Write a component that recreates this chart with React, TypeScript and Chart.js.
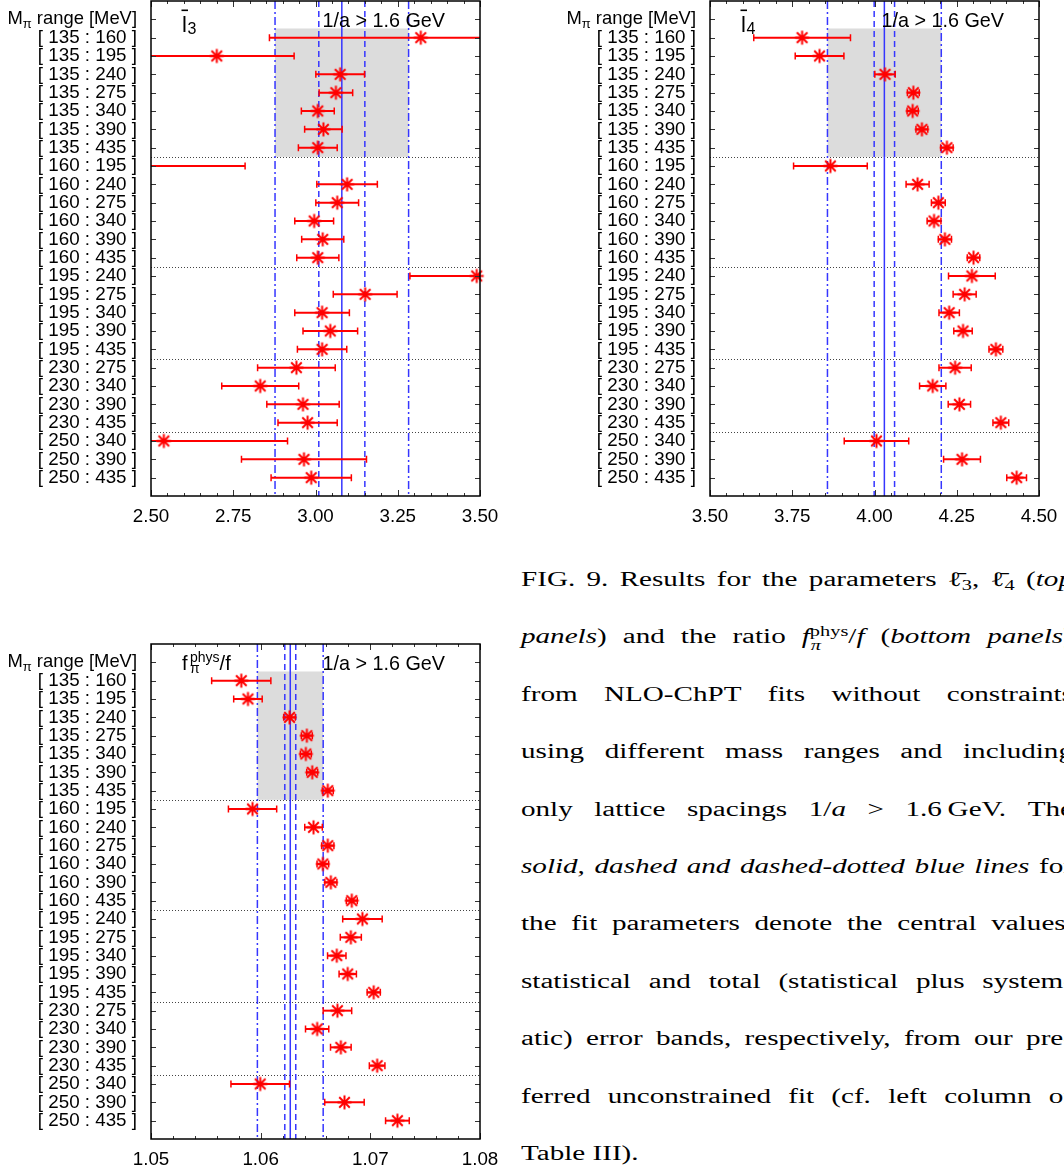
import React, { useEffect, useRef } from "react";
import { Chart, registerables } from "chart.js";

Chart.register(...registerables);

const FONT = '"Liberation Sans", Arial, Helvetica, sans-serif';
Chart.defaults.font.family = FONT;

// ---------------- data ----------------
const rowLabels = [
  "[ 135 : 160 ]", "[ 135 : 195 ]", "[ 135 : 240 ]", "[ 135 : 275 ]", "[ 135 : 340 ]", "[ 135 : 390 ]", "[ 135 : 435 ]",
  "[ 160 : 195 ]", "[ 160 : 240 ]", "[ 160 : 275 ]", "[ 160 : 340 ]", "[ 160 : 390 ]", "[ 160 : 435 ]",
  "[ 195 : 240 ]", "[ 195 : 275 ]", "[ 195 : 340 ]", "[ 195 : 390 ]", "[ 195 : 435 ]",
  "[ 230 : 275 ]", "[ 230 : 340 ]", "[ 230 : 390 ]", "[ 230 : 435 ]",
  "[ 250 : 340 ]", "[ 250 : 390 ]", "[ 250 : 435 ]",
];
const groupBreaks = [7.5, 13.5, 18.5, 22.5];
const shadedRowRange = [0.5, 7.5];

const l3Values = [3.32, 2.70, 3.075, 3.062, 3.007, 3.024, 3.007, 2.35, 3.096, 3.066, 2.996, 3.022, 3.007, 3.49, 3.151, 3.020, 3.045, 3.020, 2.942, 2.832, 2.962, 2.976, 2.539, 2.965, 2.987];
const l3Errors = [0.46, 0.235, 0.074, 0.051, 0.050, 0.057, 0.059, 0.436, 0.092, 0.065, 0.059, 0.064, 0.064, 0.203, 0.097, 0.083, 0.083, 0.075, 0.118, 0.117, 0.110, 0.090, 0.376, 0.190, 0.122];
const l3Fit = [3.080, 0.070, 0.203]; // central, statistical, total
const l3Ticks = [2.5, 2.75, 3.0, 3.25, 3.5];

const l4Values = [3.780, 3.833, 4.032, 4.118, 4.116, 4.144, 4.220, 3.866, 4.131, 4.194, 4.181, 4.214, 4.301, 4.296, 4.274, 4.227, 4.269, 4.369, 4.245, 4.177, 4.258, 4.384, 4.006, 4.266, 4.432];
const l4Errors = [0.147, 0.074, 0.031, 0.018, 0.017, 0.018, 0.019, 0.112, 0.035, 0.021, 0.021, 0.020, 0.019, 0.071, 0.035, 0.031, 0.028, 0.021, 0.049, 0.040, 0.034, 0.024, 0.098, 0.056, 0.030];
const l4Fit = [4.030, 0.031, 0.173];
const l4Ticks = [3.5, 3.75, 4.0, 4.25, 4.5];

const fValues = [1.05823, 1.05884, 1.06263, 1.06421, 1.06412, 1.06470, 1.06612, 1.05926, 1.06482, 1.06612, 1.06567, 1.06640, 1.06831, 1.06928, 1.06822, 1.06694, 1.06794, 1.07031, 1.06700, 1.06515, 1.06731, 1.07062, 1.05996, 1.06764, 1.07247];
const fErrors = [0.0027, 0.0013, 0.00053, 0.0005, 0.0005, 0.0005, 0.0005, 0.0022, 0.0008, 0.00056, 0.00053, 0.00055, 0.0005, 0.0018, 0.00096, 0.00084, 0.00079, 0.0006, 0.0013, 0.00106, 0.00094, 0.00071, 0.00267, 0.0018, 0.00108];
const fFit = [1.0627, 0.0005, 0.0030];
const fTicks = [1.05, 1.06, 1.07, 1.08];

// ---------------- marker (gnuplot-like asterisk) ----------------
function makeStar(): HTMLCanvasElement {
  const c = document.createElement("canvas");
  c.width = 17;
  c.height = 17;
  const g = c.getContext("2d")!;
  g.strokeStyle = "#ff0000";
  g.lineWidth = 2;
  g.lineCap = "butt";
  const m = 8.5;
  g.beginPath();
  g.moveTo(m - 7, m);
  g.lineTo(m + 7, m);
  g.moveTo(m, m - 7);
  g.lineTo(m, m + 7);
  g.moveTo(m - 5.3, m - 5.3);
  g.lineTo(m + 5.3, m + 5.3);
  g.moveTo(m - 5.3, m + 5.3);
  g.lineTo(m + 5.3, m - 5.3);
  g.stroke();
  return c;
}

// ---------------- panel ----------------
type PanelProps = {
  left: number;
  top: number;
  values: number[];
  errors: number[];
  fit: number[];
  ticks: number[];
  minor: number;
  title: string;
};

const CW = 505;
const CH = 540;

function Panel(props: PanelProps) {
  const ref = useRef<HTMLCanvasElement>(null);
  useEffect(() => {
    const canvas = ref.current;
    if (!canvas) return;
    const { values, errors, fit, ticks, minor, title } = props;
    const [central, stat, total] = fit;
    const xmin = ticks[0];
    const xmax = ticks[ticks.length - 1];
    const step = (ticks[1] - ticks[0]) / minor;
    const isMajor = (v: number) => ticks.some((t) => Math.abs(t - v) < step * 0.01);
    const BLUE = "#3636ff";
    const RED = "#ff0000";
    const DASH = [6, 4];
    const DASHDOT = [8, 3, 2, 3];
    const star = makeStar();
    const vline = (x: number, dash: number[]) => ({
      data: [{ x, y: -1 }, { x, y: 26 }],
      showLine: true,
      borderColor: BLUE,
      borderWidth: 1.5,
      borderDash: dash,
      pointRadius: 0,
      fill: false,
    });

    const decor = {
      id: "panelDecor",
      beforeDatasetsDraw(chart: any) {
        const { ctx, chartArea: a } = chart;
        const xs = chart.scales.x;
        const ys = chart.scales.y;
        ctx.save();
        ctx.fillStyle = "#dcdcdc";
        const x1 = xs.getPixelForValue(central - total);
        const x2 = xs.getPixelForValue(central + total);
        const y1 = ys.getPixelForValue(shadedRowRange[0]);
        const y2 = ys.getPixelForValue(shadedRowRange[1]);
        ctx.fillRect(x1, y1, x2 - x1, y2 - y1);
        ctx.strokeStyle = "#444";
        ctx.lineWidth = 1;
        ctx.setLineDash([1, 2]);
        groupBreaks.forEach((b) => {
          const y = Math.round(ys.getPixelForValue(b)) + 0.5;
          ctx.beginPath();
          ctx.moveTo(a.left, y);
          ctx.lineTo(a.right, y);
          ctx.stroke();
        });
        ctx.restore();
      },
      beforeDatasetDraw(chart: any, args: any) {
        if (args.index !== 0) return;
        const { ctx, chartArea: a } = chart;
        const xs = chart.scales.x;
        const ys = chart.scales.y;
        ctx.save();
        ctx.beginPath();
        ctx.rect(a.left, a.top, a.right - a.left, a.bottom - a.top);
        ctx.clip();
        ctx.strokeStyle = RED;
        values.forEach((v, i) => {
          const y = ys.getPixelForValue(i + 1);
          const xa = xs.getPixelForValue(v - errors[i]);
          const xb = xs.getPixelForValue(v + errors[i]);
          ctx.lineWidth = 2;
          ctx.beginPath();
          ctx.moveTo(xa, y);
          ctx.lineTo(xb, y);
          ctx.stroke();
          ctx.lineWidth = 1.5;
          ctx.beginPath();
          ctx.moveTo(xa, y - 3.5);
          ctx.lineTo(xa, y + 3.5);
          ctx.moveTo(xb, y - 3.5);
          ctx.lineTo(xb, y + 3.5);
          ctx.stroke();
        });
        ctx.restore();
      },
      afterDraw(chart: any) {
        const { ctx, chartArea: a } = chart;
        const xs = chart.scales.x;
        const ys = chart.scales.y;
        ctx.save();
        ctx.strokeStyle = "#333";
        ctx.lineWidth = 1;
        ctx.beginPath();
        xs.ticks.forEach((t: any) => {
          const px = Math.round(xs.getPixelForValue(t.value)) + 0.5;
          const len = isMajor(t.value) ? 6 : 3;
          ctx.moveTo(px, a.bottom);
          ctx.lineTo(px, a.bottom - len);
          ctx.moveTo(px, a.top);
          ctx.lineTo(px, a.top + len);
        });
        ys.ticks.forEach((t: any) => {
          const py = Math.round(ys.getPixelForValue(t.value)) + 0.5;
          ctx.moveTo(a.left, py);
          ctx.lineTo(a.left + 5, py);
          ctx.moveTo(a.right, py);
          ctx.lineTo(a.right - 5, py);
        });
        ctx.stroke();
        ctx.strokeStyle = "#000";
        ctx.lineWidth = 1.5;
        ctx.strokeRect(a.left, a.top, a.right - a.left, a.bottom - a.top);

        // header label of the row axis
        ctx.fillStyle = "#000";
        const hy = ys.getPixelForValue(0);
        ctx.textBaseline = "middle";
        ctx.textAlign = "left";
        ctx.font = `18.4px ${FONT}`;
        const wM = ctx.measureText("M").width;
        const wR = ctx.measureText(" range [MeV]").width;
        ctx.font = `13px ${FONT}`;
        const wP = ctx.measureText("π").width;
        let hx = a.left - 14 - (wM + wP + wR);
        ctx.font = `18.4px ${FONT}`;
        ctx.fillText("M", hx, hy);
        hx += wM;
        ctx.font = `13px ${FONT}`;
        ctx.fillText("π", hx, hy + 5);
        hx += wP;
        ctx.font = `18.4px ${FONT}`;
        ctx.fillText(" range [MeV]", hx, hy);

        // cut label
        ctx.textBaseline = "alphabetic";
        ctx.textAlign = "right";
        ctx.font = `19.8px ${FONT}`;
        ctx.fillText("1/a > 1.6 GeV", a.left + 294, a.top + 26);

        // panel title
        ctx.textAlign = "left";
        if (title === "f") {
          ctx.font = `20px ${FONT}`;
          ctx.fillText("f", a.left + 31, a.top + 25.5);
          ctx.font = `14px ${FONT}`;
          ctx.fillText("phys", a.left + 39, a.top + 18);
          ctx.fillText("π", a.left + 39, a.top + 29);
          const wp = ctx.measureText("phys").width;
          ctx.font = `20px ${FONT}`;
          ctx.fillText("/f", a.left + 39 + wp, a.top + 25.5);
        } else {
          ctx.font = `22px ${FONT}`;
          ctx.fillText("l", a.left + 31, a.top + 31);
          ctx.fillRect(a.left + 30.5, a.top + 8.5, 6.5, 1.6);
          ctx.font = `16px ${FONT}`;
          ctx.fillText(title, a.left + 36.5, a.top + 33);
        }
        ctx.restore();
      },
    };

    const chart = new Chart(canvas, {
      type: "scatter",
      data: {
        datasets: [
          {
            data: values.map((v, i) => ({ x: v, y: i + 1 })),
            pointStyle: star,
            pointRadius: 8,
            clip: 8,
          } as any,
          vline(central, []),
          vline(central - stat, DASH),
          vline(central + stat, DASH),
          vline(central - total, DASHDOT),
          vline(central + total, DASHDOT),
        ],
      },
      plugins: [decor],
      options: {
        animation: false,
        responsive: false,
        devicePixelRatio: 1,
        events: [],
        layout: { autoPadding: false, padding: { left: 0, right: 25, top: 1, bottom: 0 } },
        plugins: { legend: { display: false }, tooltip: { enabled: false } },
        scales: {
          x: {
            type: "linear",
            min: xmin,
            max: xmax,
            grid: { display: false, drawTicks: false },
            border: { display: false },
            afterBuildTicks: (s: any) => {
              const arr: any[] = [];
              for (let i = 0; i < ticks.length - 1; i++) {
                for (let j = 0; j < minor; j++) arr.push({ value: ticks[i] + j * step });
              }
              arr.push({ value: xmax });
              s.ticks = arr;
            },
            afterFit: (s: any) => {
              s.height = CH - 1 - 495;
              s.paddingLeft = 0;
              s.paddingRight = 0;
            },
            ticks: {
              autoSkip: false,
              maxRotation: 0,
              padding: 10,
              color: "#000",
              font: { size: 18.8 },
              callback: (v: any) => (isMajor(Number(v)) ? Number(v).toFixed(2) : ""),
            },
          },
          y: {
            type: "linear",
            reverse: true,
            min: -1,
            max: 26,
            grid: { display: false, drawTicks: false },
            border: { display: false },
            afterBuildTicks: (s: any) => {
              s.ticks = [0, ...rowLabels.map((_, i) => i + 1)].map((v) => ({ value: v }));
            },
            afterFit: (s: any) => {
              s.width = 151;
              s.paddingTop = 0;
              s.paddingBottom = 0;
            },
            ticks: {
              autoSkip: false,
              padding: 14,
              color: "#000",
              font: { size: 18.8 },
              callback: (v: any) => (Number(v) >= 1 ? rowLabels[Number(v) - 1] : ""),
            },
          },
        },
      } as any,
    });
    return () => chart.destroy();
  }, []);
  return (
    <canvas
      ref={ref}
      width={CW}
      height={CH}
      style={{ position: "absolute", left: props.left, top: props.top, width: CW, height: CH, display: "block" }}
    />
  );
}

// ---------------- caption ----------------
const CAP_LEFT = 521;
const CAP_WIDTH = 552;
const CAP_SCALE = 1.42;
const CAP_FIRST = 586;
const CAP_PITCH = 57.4;
const CAP_SIZE = 20.5;

const ell = (n: string) => (
  <span>
    {"\u2113\u0304"}
    <span style={{ position: "relative", top: "0.3em", fontSize: "0.7em" }}>{n}</span>
  </span>
);
const fpi = (
  <span>
    <i>f</i>
    <span style={{ display: "inline-block", position: "relative", fontSize: "0.7em" }}>
      <span style={{ position: "relative", top: "-0.55em" }}>phys</span>
      <span style={{ position: "absolute", left: "0.05em", top: "0.45em" }}>
        <i>π</i>
      </span>
    </span>
    /<i>f</i>
  </span>
);

const captionLines: React.ReactNode[][] = [
  ["FIG.", "9.", "Results", "for", "the", "parameters", <>{ell("3")},</>, ell("4"), <>(<i>top</i></>],
  [<><i>panels</i>)</>, "and", "the", "ratio", fpi, <>(<i>bottom</i></>, <><i>panels</i>)</>],
  ["from", "NLO-ChPT", "fits", "without", "constraints"],
  ["using", "different", "mass", "ranges", "and", "including"],
  ["only", "lattice", "spacings", <>1/<i>a</i></>, ">", "1.6\u2009GeV.", "The"],
  [<i>solid,</i>, <i>dashed</i>, <i>and</i>, <i>dashed-dotted</i>, <i>blue</i>, <i>lines</i>, "for"],
  ["the", "fit", "parameters", "denote", "the", "central", "values,"],
  ["statistical", "and", "total", "(statistical", "plus", "system-"],
  ["atic)", "error", "bands,", "respectively,", "from", "our", "pre-"],
  ["ferred", "unconstrained", "fit", "(cf.", "left", "column", "of"],
  ["Table III)."],
];

function Caption() {
  const inner = CAP_WIDTH / CAP_SCALE;
  const lineH = 24;
  const baseOff = (lineH - 1.107 * CAP_SIZE) / 2 + 0.891 * CAP_SIZE;
  return (
    <>
      {captionLines.map((words, li) => {
        const last = li === captionLines.length - 1;
        const baseline = CAP_FIRST + li * CAP_PITCH;
        return (
          <div
            key={li}
            style={{
              position: "absolute",
              left: CAP_LEFT,
              top: baseline - baseOff,
              width: inner,
              height: lineH,
              lineHeight: `${lineH}px`,
              fontFamily: '"Liberation Serif", "Times New Roman", serif',
              fontSize: CAP_SIZE,
              color: "#000",
              display: "flex",
              justifyContent: last ? "flex-start" : "space-between",
              alignItems: "baseline",
              columnGap: 5,
              transform: `scaleX(${CAP_SCALE})`,
              transformOrigin: "0 0",
            }}
          >
            {words.map((w, wi) => (
              <span key={wi} style={{ whiteSpace: "nowrap", flexShrink: 0 }}>
                {w}
              </span>
            ))}
          </div>
        );
      })}
    </>
  );
}

export default function App() {
  return (
    <div
      style={{
        position: "absolute",
        left: 0,
        top: 0,
        width: 1064,
        height: 1174,
        overflow: "hidden",
        background: "#fff",
      }}
    >
      <Panel left={0} top={0} values={l3Values} errors={l3Errors} fit={l3Fit} ticks={l3Ticks} minor={5} title="3" />
      <Panel left={559} top={0} values={l4Values} errors={l4Errors} fit={l4Fit} ticks={l4Ticks} minor={5} title="4" />
      <Panel left={0} top={643} values={fValues} errors={fErrors} fit={fFit} ticks={fTicks} minor={5} title="f" />
      <Caption />
    </div>
  );
}
